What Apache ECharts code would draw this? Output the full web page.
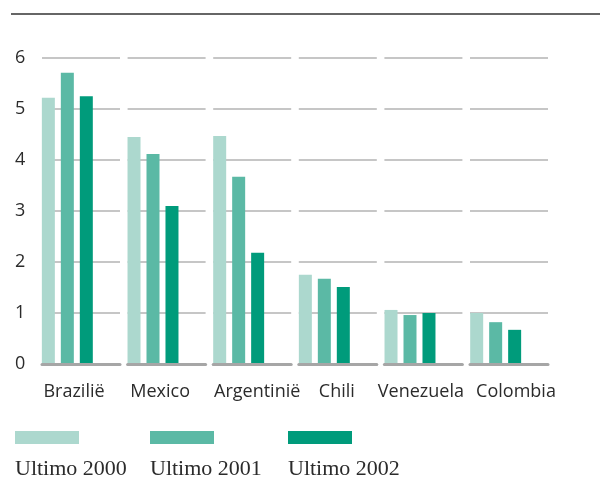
<!DOCTYPE html>
<html>
<head>
<meta charset="utf-8">
<script src="https://cdn.jsdelivr.net/npm/echarts@6/dist/echarts.min.js"></script>
<style>
  html, body { margin: 0; padding: 0; background: #fff; }
  #chart { width: 600px; height: 479px; }
</style>
</head>
<body>
<div id="chart"></div>
<script>
// Country groups along the x axis
const categories = ['Brazilië', 'Mexico', 'Argentinië', 'Chili', 'Venezuela', 'Colombia'];
// Series names (year-end figures)
const seriesNames = ['Ultimo 2000', 'Ultimo 2001', 'Ultimo 2002'];
const values2000 = [5.22, 4.45, 4.47, 1.75, 1.06, 1.00];
const values2001 = [5.71, 4.12, 3.67, 1.67, 0.96, 0.82];
const values2002 = [5.25, 3.10, 2.18, 1.51, 1.00, 0.67];
const yTickLabels = ['0', '1', '2', '3', '4', '5', '6'];

const seriesValues = [values2000, values2001, values2002];
const colors = ['#acd8ce', '#5bb9a5', '#009b7b'];

const chart = echarts.init(document.getElementById('chart'), null, { renderer: 'canvas' });

const sans = '"Open Sans", "Noto Sans", sans-serif';
const serif = '"Liberation Serif", "DejaVu Serif", serif';

// Layout: one small grid per country carries its own gridline segments and label;
// a full-width grid (last one) holds the bar clusters.
const gridTop = 58, gridBottom = 115;
const segLeft0 = 42, segStep = 85.6, segWidth = 78;
const barGridIndex = categories.length;
const legendLefts = [15, 150, 288];
// horizontal nudge of each country label from its segment centre (px)
const labelShift = [-7, -6.5, 5, -1, -2.5, 7];

const grids = categories.map((c, i) => ({
  left: segLeft0 + i * segStep,
  width: segWidth,
  top: gridTop,
  bottom: gridBottom
}));
grids.push({ left: 24.5, right: 61.5, top: gridTop, bottom: gridBottom });

const xAxes = categories.map((c, i) => {
  const s = labelShift[i];
  return {
    type: 'category',
    gridIndex: i,
    data: [c],
    z: 3,
    axisLine: { show: true, lineStyle: { color: '#a6a6a6', width: 3 } },
    axisTick: { show: false },
    axisLabel: {
      color: '#2b2b2b',
      fontFamily: sans,
      fontSize: 18,
      margin: 19,
      interval: 0,
      padding: s >= 0 ? [0, 0, 0, 2 * s] : [0, -2 * s, 0, 0]
    },
    splitLine: { show: false }
  };
});
xAxes.push({ type: 'category', gridIndex: barGridIndex, data: categories, show: false });

const yAxes = categories.map((c, i) => ({
  type: 'value',
  gridIndex: i,
  min: 0,
  max: 6,
  interval: 1,
  z: 0,
  axisLine: { show: false },
  axisTick: { show: false },
  axisLabel: {
    show: i === 0,
    color: '#2b2b2b',
    fontFamily: sans,
    fontSize: 18,
    margin: 27,
    align: 'left',
    padding: [0, 0, 3, 0],
    formatter: (v) => yTickLabels[Math.round(v)]
  },
  splitLine: { show: true, showMinLine: false, lineStyle: { color: '#b3b3b3', width: 1.5 } }
}));
yAxes.push({
  type: 'value',
  gridIndex: barGridIndex,
  min: 0,
  max: 6,
  interval: 1,
  show: false,
  splitLine: { show: false }
});

const option = {
  animation: false,
  backgroundColor: '#ffffff',
  grid: grids,
  xAxis: xAxes,
  yAxis: yAxes,
  legend: seriesNames.map((name, i) => ({
    data: [name],
    left: legendLefts[i],
    top: 431,
    padding: 0,
    icon: 'rect',
    itemWidth: 64,
    itemHeight: 13,
    selectedMode: false,
    formatter: () => '',
    textStyle: { fontSize: 1 }
  })),
  series: seriesNames.map((name, i) => ({
    name: name,
    type: 'bar',
    xAxisIndex: barGridIndex,
    yAxisIndex: barGridIndex,
    data: seriesValues[i],
    barWidth: 13,
    barGap: '46%',
    itemStyle: { color: colors[i] },
    z: 2
  })),
  graphic: [
    {
      type: 'line',
      shape: { x1: 11, y1: 14, x2: 600, y2: 14 },
      style: { stroke: '#333333', lineWidth: 1.5 },
      silent: true
    }
  ].concat(seriesNames.map((name, i) => ({
    type: 'text',
    x: legendLefts[i],
    y: 469,
    style: {
      text: name,
      font: '22px ' + serif,
      fill: '#2b2b2b',
      verticalAlign: 'middle'
    },
    silent: true
  })))
};

chart.setOption(option);
</script>
</body>
</html>
